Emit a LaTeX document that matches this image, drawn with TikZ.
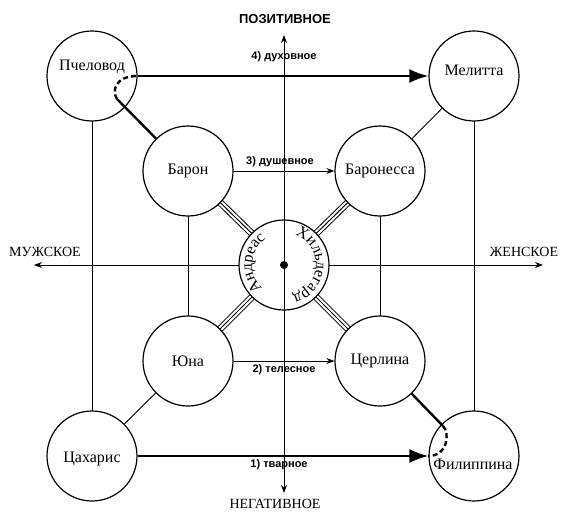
\documentclass[tikz,border=0pt]{standalone}
\usepackage{fontspec}
\setmainfont{Liberation Serif}
\newfontfamily\sansf{Liberation Sans}
\usetikzlibrary{arrows.meta,decorations.text}
\pgfdeclarelayer{background}
\pgfsetlayers{background,main}
\begin{document}
\begin{tikzpicture}[x=1pt,y=1pt,
  circ/.style={circle, draw, line width=1.2pt, fill=white, minimum size=90pt, inner sep=0pt, font=\fontsize{16}{18}\selectfont},
  txt/.style={font=\fontsize{16}{18}\selectfont, inner sep=0pt},
  thinln/.style={line width=0.9pt},
  thickln/.style={line width=2.4pt},
  hookln/.style={line width=2.4pt, dash pattern=on 5pt off 3pt},
  bigarrow/.style={line width=2.4pt, -{Latex[length=19pt,width=14pt]}},
  smallarrow/.style={line width=0.9pt, -{Stealth[length=8pt,width=6pt]}},
  axisarrow/.style={line width=0.9pt, {Stealth[length=8pt,width=6pt]}-{Stealth[length=8pt,width=6pt]}},
  elabel/.style={font=\sansf\bfseries\fontsize{11}{13}\selectfont, inner sep=0pt},
  axlabel/.style={font=\fontsize{14}{16}\selectfont, inner sep=0pt}
]
\useasboundingbox (0,0) rectangle (561,512);

% circles
\node[circ] (P)  at (92,436)  {};
\node[circ] (M)  at (474,436) {};
\node[circ] (B)  at (188,341) {Барон};
\node[circ] (Bs) at (380,341) {Баронесса};
\node[circ] (C)  at (284,247) {};
\node[circ] (Yu) at (188,151) {Юна};
\node[circ] (Z)  at (380,151) {Церлина};
\node[circ] (Ts) at (92,56)   {};
\node[circ] (F)  at (474,56)  {};

\node[txt] (Pt)  at (92,445)  {Пчеловод};
\node[txt] (Mt)  at (474,442) {Мелитта};
\node[txt] (Tst) at (92,53)   {Цахарис};
\node[txt] (Ft)  at (473,48)  {Филиппина};

% axis end points
\coordinate (Ltip) at (34,247);
\coordinate (Rtip) at (543,247);
\coordinate (Ttip) at (284,477);
\coordinate (Btip) at (284,19);

\begin{pgfonlayer}{background}
  \draw[axisarrow] (Ltip) -- (Rtip);
  \draw[thinln] (P.center) -- (Ts.center);
  \draw[thinln] (M.center) -- (F.center);
  \draw[thinln] (B.center) -- (Yu.center);
  \draw[thinln] (Bs.center) -- (Z.center);
  \draw[thinln] (M.center) -- (Bs.center);
  \draw[thinln] (Ts.center) -- (Yu.center);
  \foreach \n in {B,Bs,Yu,Z}{
    \draw[line width=7pt] (\n.center) -- (C.center);
    \draw[white, line width=5pt] (\n.center) -- (C.center);
    \draw[line width=1pt] (\n.center) -- (C.center);
  }
\end{pgfonlayer}

% vertical axis over the centre circle
\draw[axisarrow] (Btip) -- (Ttip);
\node[circle, fill, minimum size=8pt, inner sep=0pt] (dot) at (C.center) {};

% thick links with dashed hooks
\coordinate (h1) at (117,413);
\draw[thickln] (B) -- (h1);
\draw[hookln] (h1) .. controls (112,420) and (114,436) .. (P.east);
\coordinate (h2) at (443,86);
\draw[thickln] (Z) -- (h2);
\draw[hookln] (h2) .. controls (450,79) and (448,56) .. (F.west);

% arrows
\draw[bigarrow] (P.east) -- (M.west);
\draw[bigarrow] (Ts.east) -- (F.west);
\draw[smallarrow] (B.east) -- (Bs.west);
\draw[smallarrow] (Yu.east) -- (Z.west);

% edge labels
\node[elabel] (l4) at (284,455) {4) духовное};
\node[elabel] (l3) at (280,350) {3) душевное};
\node[elabel] (l2) at (284,142) {2) телесное};
\node[elabel] (l1) at (279,47)  {1) тварное};

% axis labels
\node[axlabel, font=\sansf\bfseries\fontsize{13}{15}\selectfont] (pos) at (285,493) {ПОЗИТИВНОЕ};
\node[axlabel] (neg) at (275,8)   {НЕГАТИВНОЕ};
\node[axlabel] (mus) at (45,260)  {МУЖСКОЕ};
\node[axlabel] (fem) at (524,260) {ЖЕНСКОЕ};

% curved names in the centre circle
\path[decorate, decoration={text along path, text align=center,
  text={|\fontsize{16}{18}\selectfont|Андреас}}]
  (C.center) ++(232:32) arc[start angle=232, end angle=120, radius=32];
\path[decorate, decoration={text along path, text align=center,
  text={|\fontsize{16}{18}\selectfont|Хильдегард}}]
  (C.center) ++(75:32) arc[start angle=75, end angle=-80, radius=32];
\end{tikzpicture}
\end{document}
